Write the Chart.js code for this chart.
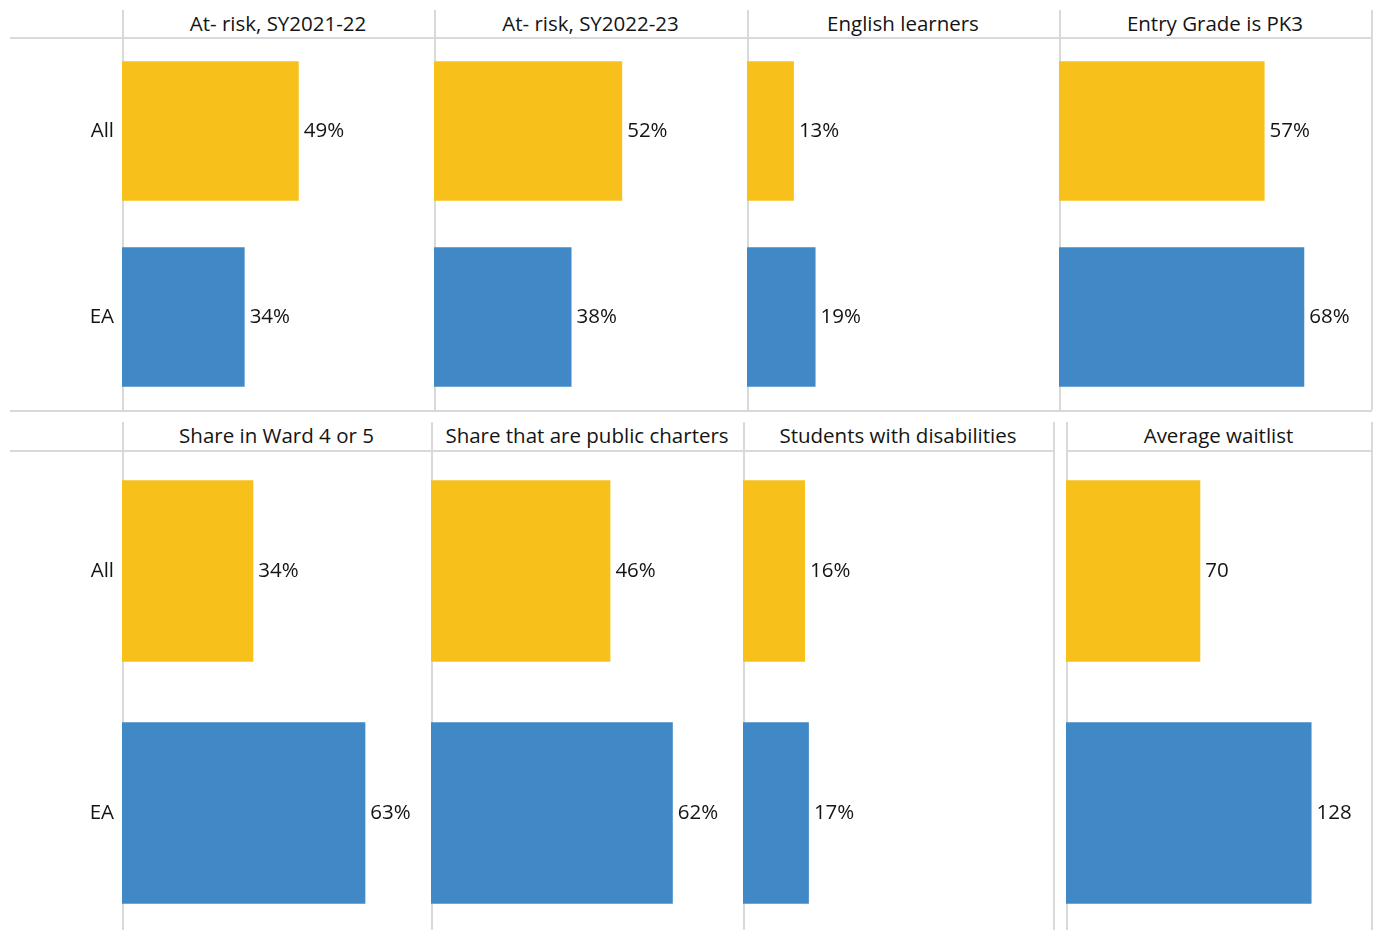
<!DOCTYPE html>
<html>
<head>
<meta charset="utf-8">
<title>All vs EA</title>
<script src="https://cdn.jsdelivr.net/npm/chart.js@4"></script>
<style>
  body { margin:0; background:#fff; width:1376px; height:930px; overflow:hidden; position:relative; font-family:"Open Sans", Lato, sans-serif; color:#141414; }
  .head { position:absolute; text-align:center; font-size:20.5px; font-weight:500; white-space:nowrap; }
  .vl, .hl { position:absolute; background:#d9d9d9; }
  .vl { width:1.5px; }
  .hl { height:1.5px; }
  canvas { position:absolute; }
</style>
</head>
<body>
<script>
// data
const groups = ['All', 'EA'];
const titles = [
  'At- risk, SY2021-22', 'At- risk, SY2022-23', 'English learners', 'Entry Grade is PK3',
  'Share in Ward 4 or 5', 'Share that are public charters', 'Students with disabilities', 'Average waitlist'
];
const allValues = [49, 52, 13, 57, 34, 46, 16, 70];
const eaValues  = [34, 38, 19, 68, 63, 62, 17, 128];
const suffixes  = ['%', '%', '%', '%', '%', '%', '%', ''];
const axisMax   = [86.5, 86.5, 86.5, 86.5, 80, 80, 80, 159];

const colors = ['#F8C01B', '#4189C6'];
const FONT = '500 20.5px "Open Sans", Lato, sans-serif';

// panel boxes: [left, right] per column, per row
const rows = [
  { top: 38, height: 372, headTop: 10, cols: [[122, 434], [434, 747], [747, 1059], [1059, 1371]] },
  { top: 450, height: 484, headTop: 422, cols: [[122, 431], [431, 743], [743, 1053], [1066, 1371]] }
];

function line(cls, x, y, w, h) {
  const d = document.createElement('div');
  d.className = cls;
  d.style.left = x + 'px'; d.style.top = y + 'px';
  if (cls === 'vl') d.style.height = h + 'px'; else d.style.width = w + 'px';
  document.body.appendChild(d);
}

// frame lines
[122, 434, 747, 1059, 1371].forEach(x => line('vl', x, 10, 0, 400));
[122, 431, 743, 1053, 1066, 1371].forEach(x => line('vl', x, 422, 0, 520));
line('hl', 10, 37, 1362);
line('hl', 10, 410, 1362);
line('hl', 10, 450, 1044);
line('hl', 1066, 450, 306);

// value at the end of each bar, group names left of the first column
const barLabels = {
  id: 'barLabels',
  afterDatasetsDraw(chart, args, opts) {
    const ctx = chart.ctx;
    const data = chart.data.datasets[0].data;
    const yScale = chart.scales.y;
    ctx.save();
    ctx.font = FONT;
    ctx.fillStyle = '#141414';
    ctx.textBaseline = 'middle';
    chart.getDatasetMeta(0).data.forEach((bar, i) => {
      ctx.textAlign = 'left';
      ctx.fillText(data[i] + opts.suffix, bar.x + 5, bar.y);
      if (opts.groupNames) {
        ctx.textAlign = 'right';
        ctx.fillText(chart.data.labels[i], chart.chartArea.left - 8, yScale.getPixelForValue(i));
      }
    });
    ctx.restore();
  }
};

rows.forEach((row, r) => {
  row.cols.forEach(([left, right], c) => {
    const i = r * 4 + c;
    const first = c === 0;

    const head = document.createElement('div');
    head.className = 'head';
    head.textContent = titles[i];
    head.style.left = left + 'px';
    head.style.width = (right - left) + 'px';
    head.style.top = row.headTop + 'px';
    head.style.lineHeight = (row.top - row.headTop - 1) + 'px';
    document.body.appendChild(head);

    const x0 = first ? 10 : left;
    const cv = document.createElement('canvas');
    cv.width = right - x0;
    cv.height = row.height;
    cv.style.left = x0 + 'px';
    cv.style.top = row.top + 'px';
    document.body.appendChild(cv);

    new Chart(cv, {
      type: 'bar',
      data: {
        labels: groups,
        datasets: [{
          data: [allValues[i], eaValues[i]],
          backgroundColor: colors,
          barPercentage: 0.75,
          categoryPercentage: 1
        }]
      },
      options: {
        indexAxis: 'y',
        responsive: false,
        animation: false,
        devicePixelRatio: 1,
        layout: { padding: { left: left - x0, right: 0, top: 0, bottom: 0 } },
        plugins: {
          legend: { display: false },
          tooltip: { enabled: false },
          barLabels: { suffix: suffixes[i], groupNames: first }
        },
        scales: {
          x: { display: false, min: 0, max: axisMax[i] },
          y: { display: false }
        }
      },
      plugins: [barLabels]
    });
  });
});
</script>
</body>
</html>
